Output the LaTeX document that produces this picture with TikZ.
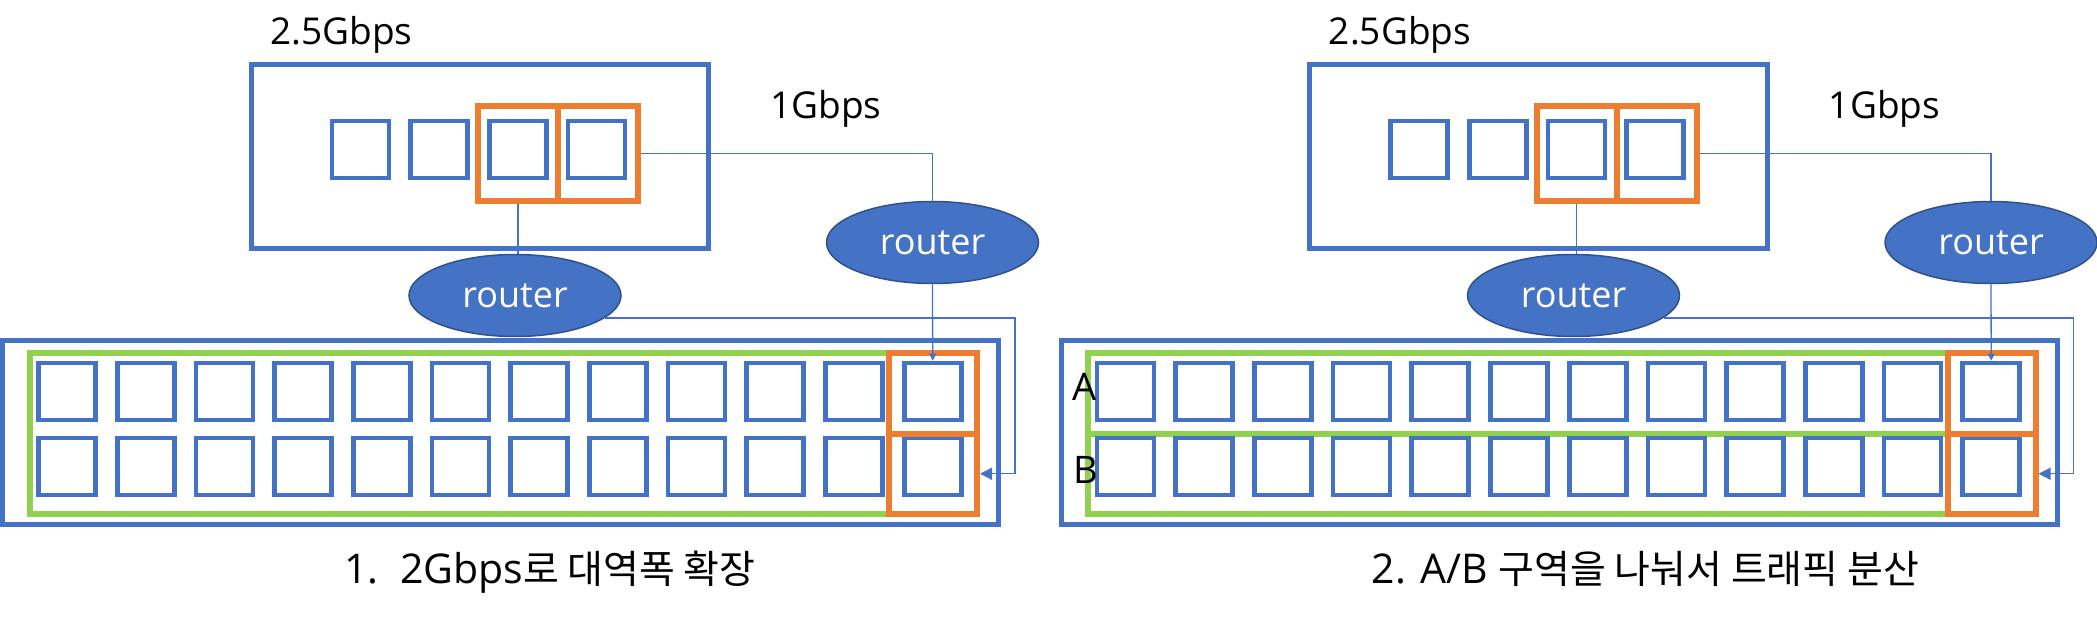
\documentclass[tikz,border=0pt]{standalone}
\usepackage{fontspec}
\setmainfont{Open Sans}
\newfontfamily\kr{Noto Sans CJK KR}[Scale=0.95]
\usetikzlibrary{arrows.meta,shapes.geometric}
\definecolor{oblue}{HTML}{4472C4}
\definecolor{oorange}{HTML}{ED7D31}
\definecolor{ogreen}{HTML}{92D050}
\definecolor{odark}{HTML}{2F528F}
\tikzset{
  bluebox/.style={draw=oblue, line width=5pt},
  sq/.style={draw=oblue, line width=4.7pt, minimum width=57pt, minimum height=57pt, inner sep=0pt},
  orbox/.style={draw=oorange, line width=6pt, inner sep=0pt},
  grbox/.style={draw=ogreen, line width=6pt},
  router/.style={ellipse, fill=oblue, draw=odark, line width=1.5pt, minimum width=212pt, minimum height=82pt, text=white, font=\fontsize{36}{40}\selectfont, inner sep=0pt},
  lbl/.style={anchor=base, inner sep=0pt, font=\fontsize{37}{42}\selectfont},
  captxt/.style={anchor=base, inner sep=0pt, font=\fontsize{41}{46}\selectfont},
  conn/.style={draw=oblue, line width=1.3pt},
}
\newcommand\mypanel[2]{%
  \draw[bluebox] (251,65) rectangle (708.5,248.5);
  \node[lbl] (#1rate) at (341.5,45) {2.5Gbps};
  \foreach \i/\x in {1/360.5,2/439.2,3/517.9,4/596.6}
    \node[sq] (#1t\i) at (\x,149.5) {};
  \node[orbox, minimum width=80pt, minimum height=95pt] (#1o1) at (518,153.5) {};
  \node[orbox, minimum width=80pt, minimum height=95pt] (#1o2) at (598,153.5) {};
  \node[lbl] (#1one) at (826,119) {1Gbps};
  \node[router] (#1r1) at (515,295.5) {router};
  \node[router] (#1r2) at (932.5,242.5) {router};
  \draw[bluebox] (2.5,340.5) rectangle (998.5,524);
  #2
  \foreach \i in {0,...,11} {
    \node[sq] (#1a\i) at ({67+78.7*\i},391.5) {};
    \node[sq] (#1b\i) at ({67+78.7*\i},466.5) {};
  }
  \node[orbox, minimum width=88pt, minimum height=80.5pt] (#1p1) at (933,393.25) {};
  \node[orbox, minimum width=88pt, minimum height=80.5pt] (#1p2) at (933,473.75) {};
  \draw[conn] (#1o1.south) -- (#1o1.south |- #1r1.north);
  \draw[conn] (#1o2.east) -| (#1r2.north);
  \draw[conn, -{Triangle[length=7pt,width=7pt]}] (#1r2.south) -- (#1a11.north);
  \draw[conn, -{Triangle[length=12pt,width=12pt]}] (#1r1.-14) -| ([xshift=35pt]#1p2.east) -- (#1p2.east);
}
\begin{document}
\begin{tikzpicture}[x=1pt,y=-1pt]
\useasboundingbox (0,0) rectangle (2097,623);
\mypanel{L}{\draw[grbox] (29.5,353) rectangle (889,514);}
\node[captxt] (capL) at (550,583) {1.~~2Gbps{\kr 로 대역폭 확장}};
\begin{scope}[xshift=1058.5pt]
\mypanel{R}{\draw[grbox] (29.5,353) rectangle (889,433.5);
  \draw[grbox] (29.5,433.5) rectangle (889,514);}
\node[lbl, font=\fontsize{38}{42}\selectfont] (labA) at (26.5,400) {A};
\node[lbl, font=\fontsize{38}{42}\selectfont] (labB) at (27.5,483) {B};
\node[captxt] (capR) at (587,583) {2. A/B {\kr 구역을 나눠서 트래픽 분산}};
\end{scope}
\end{tikzpicture}
\end{document}
